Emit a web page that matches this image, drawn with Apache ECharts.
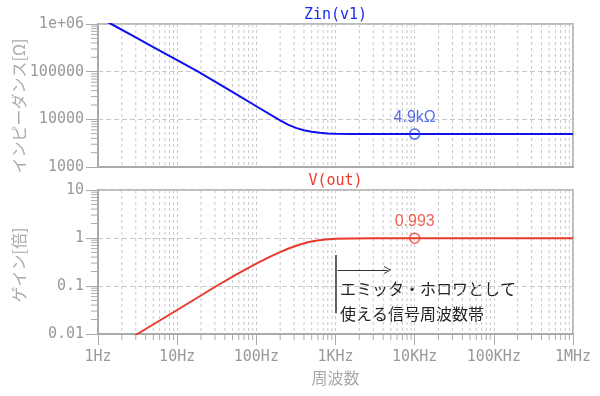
<!DOCTYPE html>
<html><head><meta charset="utf-8">
<script src="https://cdn.jsdelivr.net/npm/echarts@6/dist/echarts.min.js"></script>
<style>html,body{margin:0;padding:0;background:#fff}#c{width:600px;height:396px}</style>
</head><body><div id="c"></div>
<script>
// ---- data ----
const freqZin = [1, 1.47, 3.16, 5.62, 10, 18.4, 31.6, 56.2, 100, 190, 251, 316, 398, 501, 631, 794, 1000, 1585, 3162, 10000, 100000, 1000000];
const zinValues = [1422000, 1000000, 499000, 295000, 175000, 100000, 58700, 33300, 18800, 10000, 7760, 6610, 5890, 5500, 5250, 5070, 4980, 4920, 4900, 4900, 4900, 4900];
const freqGain = [1, 3.14, 10, 31.4, 56.2, 100, 141, 190, 251, 340, 447, 562, 741, 1000, 1585, 3162, 10000, 100000, 1000000];
const gainValues = [0.00318, 0.01, 0.0316, 0.1, 0.174, 0.292, 0.389, 0.49, 0.596, 0.716, 0.813, 0.875, 0.929, 0.959, 0.979, 0.989, 0.993, 0.993, 0.993];
const xTickLabels = ['1Hz', '10Hz', '100Hz', '1KHz', '10KHz', '100KHz', '1MHz'];
const zinTickLabels = ['1000', '10000', '100000', '1e+06'];   // 10^3 .. 10^6
const gainTickLabels = ['0.01', '0.1', '1', '10'];             // 10^-2 .. 10^1
const markerFreq = 10000;
const zinMarker = 4900, zinMarkerLabel = '4.9kΩ';
const gainMarker = 0.993, gainMarkerLabel = '0.993';
const titles = ['Zin(v1)', 'V(out)'];
const yNames = ['インピーダンス[Ω]', 'ゲイン[倍]'];
const xName = '周波数';
const noteLines = ['エミッタ・ホロワとして', '使える信号周波数帯'];
const bandLine = [[1000, 0.443], [1000, 0.027]];
const bandArrow = [[1060, 0.2154], [4550, 0.2154]];

// ---- helpers ----
const xMin = 1, xMax = 1e6;
const zinMin = 1e3, zinMax = 1e6;
const gainMin = 0.01, gainMax = 10;
function minorsBetween(lo, hi) {
  const out = [];
  for (let e = Math.round(Math.log10(lo)); e < Math.round(Math.log10(hi)); e++)
    for (let m = 2; m <= 9; m++) out.push(+(m * Math.pow(10, e)).toPrecision(6));
  return out;
}
const minorX = minorsBetween(xMin, xMax);
const minorZin = minorsBetween(zinMin, zinMax);
const minorGain = minorsBetween(gainMin, gainMax);
const labelFrom = (arr, lo) => v => { const i = Math.round(Math.log10(v) - Math.log10(lo)); return arr[i] !== undefined ? arr[i] : ''; };

const GRAY = '#aaaaaa', GRID = '#c8c8c8', LBL = '#999999';
const mono = '"DejaVu Sans Mono", monospace';
const cjk = '"Noto Sans CJK JP", sans-serif';

function vGrid(withTick) {
  return function (params, api) {
    const cs = params.coordSys;
    const p = api.coord([api.value(0), api.value(1)]);
    const ch = [{
      type: 'line', shape: { x1: p[0], y1: cs.y, x2: p[0], y2: cs.y + cs.height },
      style: { stroke: GRID, lineWidth: 1, lineDash: [3, 3] }
    }];
    if (withTick) ch.push({
      type: 'line', shape: { x1: p[0], y1: cs.y + cs.height, x2: p[0], y2: cs.y + cs.height + 6 },
      style: { stroke: GRAY, lineWidth: 1 }
    });
    return { type: 'group', children: ch };
  };
}
function yMinorTick(params, api) {
  const cs = params.coordSys;
  const p = api.coord([api.value(0), api.value(1)]);
  return { type: 'line', shape: { x1: cs.x - 7, y1: p[1], x2: cs.x, y2: p[1] }, style: { stroke: GRAY, lineWidth: 1 } };
}

const xAxisBase = {
  type: 'log', logBase: 10, min: xMin, max: xMax, splitNumber: 6,
  axisLine: { lineStyle: { color: GRAY, width: 2 } },
  splitLine: { show: true, lineStyle: { color: GRID, type: [3, 3], width: 1 } },
  minorTick: { show: false }
};
const yAxisBase = {
  type: 'log', logBase: 10,
  axisLine: { show: true, lineStyle: { color: GRAY, width: 2 } },
  axisTick: { show: true, length: 12, lineStyle: { color: GRAY, width: 1 } },
  splitLine: { show: true, lineStyle: { color: GRID, type: [5, 3], width: 1 } },
  axisLabel: { color: LBL, fontFamily: mono, fontSize: 15, margin: 14 }
};

const chart = echarts.init(document.getElementById('c'), null, { renderer: 'canvas' });
chart.setOption({
  animation: false,
  backgroundColor: '#ffffff',
  grid: [
    { left: 98, top: 24, width: 475, height: 143, show: true, borderColor: '#bbbbbb', borderWidth: 2 },
    { left: 98, top: 190, width: 475, height: 144, show: true, borderColor: '#bbbbbb', borderWidth: 2 }
  ],
  xAxis: [
    Object.assign({}, xAxisBase, { gridIndex: 0, axisTick: { show: false }, axisLabel: { show: false } }),
    Object.assign({}, xAxisBase, {
      gridIndex: 1,
      axisTick: { show: true, length: 11, lineStyle: { color: GRAY, width: 1 } },
      axisLabel: { color: LBL, fontFamily: mono, fontSize: 15, margin: 16, formatter: labelFrom(xTickLabels, xMin) },
      name: xName, nameLocation: 'middle', nameGap: 36,
      nameTextStyle: { color: GRAY, fontFamily: cjk, fontSize: 16 }
    })
  ],
  yAxis: [
    Object.assign({}, yAxisBase, {
      gridIndex: 0, min: zinMin, max: zinMax, splitNumber: 3,
      axisLabel: Object.assign({}, yAxisBase.axisLabel, { formatter: labelFrom(zinTickLabels, zinMin) })
    }),
    Object.assign({}, yAxisBase, {
      gridIndex: 1, min: gainMin, max: gainMax, splitNumber: 3,
      axisLabel: Object.assign({}, yAxisBase.axisLabel, { formatter: labelFrom(gainTickLabels, gainMin) })
    })
  ],
  graphic: [
    { type: 'text', x: 335.5, y: 15, silent: true,
      style: { text: titles[0], fill: '#1a2cf0', font: '15px ' + mono, textAlign: 'center', textVerticalAlign: 'middle' } },
    { type: 'text', x: 335.5, y: 181, silent: true,
      style: { text: titles[1], fill: '#ee3b2c', font: '15px ' + mono, textAlign: 'center', textVerticalAlign: 'middle' } },
    { type: 'text', x: 19, y: 106, rotation: Math.PI / 2, silent: true,
      style: { text: yNames[0], fill: GRAY, font: '16px ' + cjk, textAlign: 'center', textVerticalAlign: 'middle' } },
    { type: 'text', x: 19, y: 265, rotation: Math.PI / 2, silent: true,
      style: { text: yNames[1], fill: GRAY, font: '16px ' + cjk, textAlign: 'center', textVerticalAlign: 'middle' } },
    { type: 'text', x: 340, y: 289, silent: true,
      style: { text: noteLines[0], fill: '#222222', font: '16px ' + cjk, textAlign: 'left', textVerticalAlign: 'middle' } },
    { type: 'text', x: 340, y: 314, silent: true,
      style: { text: noteLines[1], fill: '#222222', font: '16px ' + cjk, textAlign: 'left', textVerticalAlign: 'middle' } }
  ],
  series: [
    { type: 'custom', xAxisIndex: 0, yAxisIndex: 0, silent: true, z: 1, renderItem: vGrid(false),
      data: minorX.map(v => [v, zinMin]) },
    { type: 'custom', xAxisIndex: 1, yAxisIndex: 1, silent: true, z: 1, renderItem: vGrid(true),
      data: minorX.map(v => [v, gainMin]) },
    { type: 'custom', xAxisIndex: 0, yAxisIndex: 0, silent: true, z: 1, renderItem: yMinorTick,
      data: minorZin.map(v => [xMin, v]) },
    { type: 'custom', xAxisIndex: 1, yAxisIndex: 1, silent: true, z: 1, renderItem: yMinorTick,
      data: minorGain.map(v => [xMin, v]) },
    { name: titles[0], type: 'line', xAxisIndex: 0, yAxisIndex: 0, z: 5, clip: true,
      data: freqZin.map((f, i) => [f, zinValues[i]]),
      showSymbol: false, smooth: false, lineStyle: { color: '#1010ee', width: 2, join: 'round' } },
    { name: titles[1], type: 'line', xAxisIndex: 1, yAxisIndex: 1, z: 5, clip: true,
      data: freqGain.map((f, i) => [f, gainValues[i]]),
      showSymbol: false, smooth: false, lineStyle: { color: '#e8392b', width: 2, join: 'round' },
      markLine: {
        silent: true, animation: false, symbol: ['none', 'none'], label: { show: false },
        lineStyle: { color: '#333333', width: 1.5, type: 'solid' },
        data: [
          [{ coord: bandLine[0] }, { coord: bandLine[1] }],
          [{ coord: bandArrow[0], symbol: 'none' },
           { coord: bandArrow[1], symbol: 'path://M5,0 L10,10 L8.6,10 L5,2.5 L1.4,10 L0,10 Z', symbolSize: [8, 7],
             lineStyle: { width: 1 } }]
        ]
      } },
    { type: 'scatter', xAxisIndex: 0, yAxisIndex: 0, z: 6,
      data: [[markerFreq, zinMarker]], symbol: 'circle', symbolSize: 10,
      itemStyle: { color: 'rgba(0,0,0,0)', borderColor: '#2a48ee', borderWidth: 1.5 },
      label: { show: true, position: 'top', distance: 3, formatter: zinMarkerLabel, color: '#2a48ee',
        fontFamily: '"Liberation Sans", "Noto Sans", sans-serif', fontSize: 16 } },
    { type: 'scatter', xAxisIndex: 1, yAxisIndex: 1, z: 6,
      data: [[markerFreq, gainMarker]], symbol: 'circle', symbolSize: 10,
      itemStyle: { color: 'rgba(0,0,0,0)', borderColor: '#ee3b2c', borderWidth: 1.5 },
      label: { show: true, position: 'top', distance: 3, formatter: gainMarkerLabel, color: '#ee3b2c',
        fontFamily: '"Liberation Sans", "Noto Sans", sans-serif', fontSize: 16 } }
  ]
});
</script>
</body></html>
